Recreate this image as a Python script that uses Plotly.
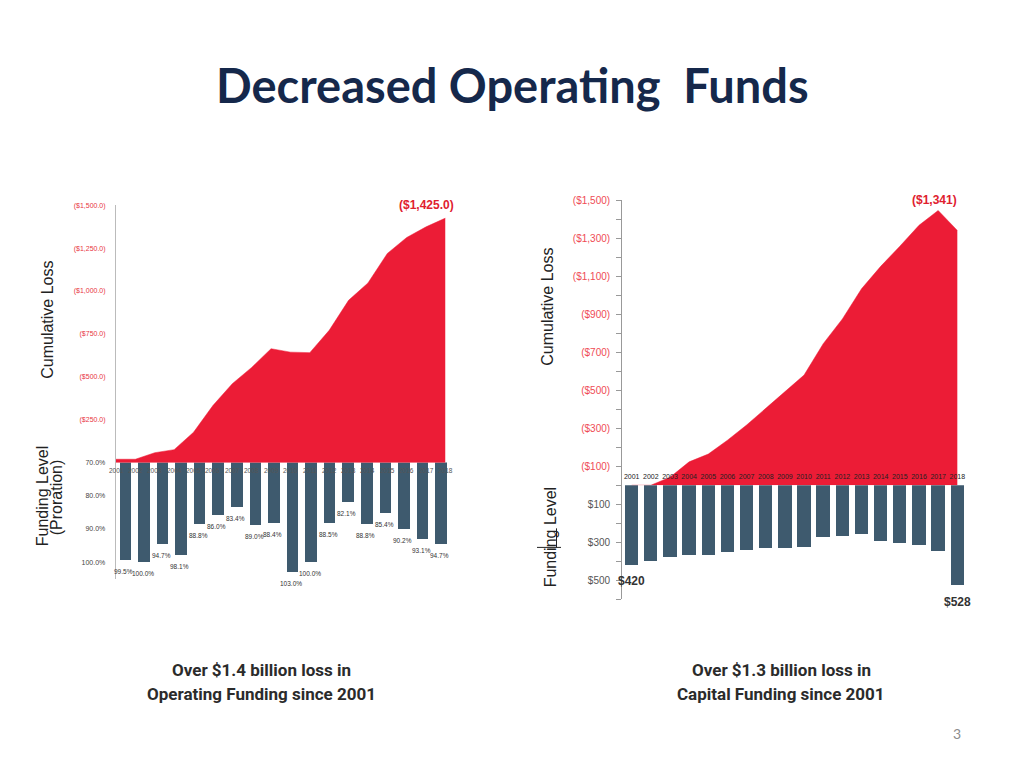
import plotly.graph_objects as go

# ---------------- data ----------------
years = list(range(2001, 2019))
year_labels = [str(y) for y in years]

# Left chart: operating funding
op_cum_loss = [20, 20, 58, 76, 177, 333, 460, 555, 664, 644, 641, 771, 946, 1047, 1219, 1312, 1374, 1425]
op_proration = [99.5, 100.0, 94.7, 98.1, 88.8, 86.0, 83.4, 89.0, 88.4, 103.0, 100.0, 88.5, 82.1, 88.8, 85.4, 90.2, 93.1, 94.7]
op_loss_ticks = [250, 500, 750, 1000, 1250, 1500]
op_loss_ticktext = ["($250.0)", "($500.0)", "($750.0)", "($1,000.0)", "($1,250.0)", "($1,500.0)"]
op_pct_ticks = [70, 80, 90, 100]
op_pct_ticktext = ["70.0%", "80.0%", "90.0%", "100.0%"]

# Right chart: capital funding
cap_cum_loss = [0, 0, 42, 123, 164, 237, 317, 405, 492, 580, 745, 875, 1034, 1152, 1258, 1368, 1446, 1341]
cap_funding = [420, 401, 378, 366, 369, 352, 341, 334, 331, 327, 274, 271, 258, 296, 306, 317, 347, 528]
cap_loss_ticks = [100, 200, 300, 400, 500, 600, 700, 800, 900, 1000, 1100, 1200, 1300, 1400, 1500]
cap_loss_ticktext = ["($100)", "", "($300)", "", "($500)", "", "($700)", "", "($900)", "",
                     "($1,100)", "", "($1,300)", "", "($1,500)"]
cap_fund_ticks = [0, 100, 200, 300, 400, 500, 600]
cap_fund_ticktext = ["", "$100", "", "$300", "", "$500", ""]

RED = "#EC1C36"
BAR = "#3E5A6E"
PAGE_MARGIN = 8                      # default browser body margin
W, H = 1024 - 2 * PAGE_MARGIN, 768 - 2 * PAGE_MARGIN
# screenshot mapping correction (page px -> picture px): pic = OFF + K * page
OFF_X, K_X = 0.0, 1.0
OFF_Y, K_Y = 6.1, 0.9907


def px(x):
    page = (x - OFF_X) / K_X
    return (page - PAGE_MARGIN) / W


def py(y):
    page = (y - OFF_Y) / K_Y
    return 1 - (page - PAGE_MARGIN) / H


fig = go.Figure()

fig.add_trace(go.Bar(x=years, y=[v - 70 for v in op_proration], base=70, width=0.62,
                     marker=dict(color=BAR, line=dict(width=0)), xaxis="x", yaxis="y", showlegend=False))
fig.add_trace(go.Bar(x=years, y=cap_funding, base=0, width=0.7,
                     marker=dict(color=BAR, line=dict(width=0)), xaxis="x2", yaxis="y2", showlegend=False))
fig.add_trace(go.Scatter(x=years, y=op_cum_loss, mode="lines", fill="tozeroy", fillcolor=RED,
                         line=dict(color=RED, width=0.5), xaxis="x3", yaxis="y3", showlegend=False))
fig.add_trace(go.Scatter(x=years, y=cap_cum_loss, mode="lines", fill="tozeroy", fillcolor=RED,
                         line=dict(color=RED, width=0.5), xaxis="x4", yaxis="y4", showlegend=False))

noaxis = dict(showgrid=False, zeroline=False)

layout = dict(
    width=W, height=H, autosize=False,
    margin=dict(l=0, r=0, t=0, b=0),
    paper_bgcolor="white", plot_bgcolor="rgba(0,0,0,0)",
    bargap=0,
    font=dict(family="Liberation Sans, Arial, sans-serif", color="#333"),
    xaxis=dict(domain=[px(115.7), px(450.1)], range=[2000.5, 2018.5], anchor="y",
               showticklabels=False, ticks="", showline=False, **noaxis),
    yaxis=dict(domain=[py(578.3), py(462.3)], range=[105, 70], anchor="x",
               tickmode="array", tickvals=op_pct_ticks, ticktext=op_pct_ticktext,
               tickfont=dict(size=7, color="#444"), ticks="", ticklabelstandoff=8,
               showline=True, linecolor="#BBBBBB", linewidth=1, **noaxis),
    xaxis2=dict(domain=[px(622.1), px(966.9)], range=[2000.5, 2018.5], anchor="y2",
                showticklabels=False, ticks="", showline=False, **noaxis),
    yaxis2=dict(domain=[py(598.7), py(485)], range=[600, 0], anchor="x2",
                tickmode="array", tickvals=cap_fund_ticks, ticktext=cap_fund_ticktext,
                tickfont=dict(size=10, color="#555"), ticks="outside", ticklen=5, tickcolor="#999",
                ticklabelstandoff=4,
                showline=True, linecolor="#999999", linewidth=1, **noaxis),
    xaxis3=dict(domain=[px(116), px(445.5)], range=[2001, 2018], anchor="y3",
                showticklabels=False, ticks="", showline=False, **noaxis),
    yaxis3=dict(domain=[py(462.5), py(205.7)], range=[0, 1500], anchor="x3",
                tickmode="array", tickvals=op_loss_ticks, ticktext=op_loss_ticktext,
                tickfont=dict(size=7, color="#E8343F"), ticks="", ticklabelstandoff=8,
                showline=True, linecolor="#BBBBBB", linewidth=1, **noaxis),
    xaxis4=dict(domain=[px(622.1), px(966.9)], range=[2000.5, 2018.5], anchor="y4",
                tickmode="array", tickvals=years, ticktext=year_labels,
                tickfont=dict(size=7, color="#222"), ticks="", ticklabelposition="inside",
                ticklabelstandoff=2, showline=False, **noaxis),
    yaxis4=dict(domain=[py(485), py(200.75)], range=[0, 1500], anchor="x4",
                tickmode="array", tickvals=cap_loss_ticks, ticktext=cap_loss_ticktext,
                tickfont=dict(size=10, color="#EF4B55"), ticks="outside", ticklen=5, tickcolor="#999",
                ticklabelstandoff=4,
                showline=True, linecolor="#999999", linewidth=1, **noaxis),
)
fig.update_layout(**layout)

ann = []
ann.append(dict(xref="paper", yref="paper", x=px(512), y=py(86), xanchor="center", yanchor="middle",
                text="<b>Decreased Operating  Funds</b>", showarrow=False,
                font=dict(family="Lato, Open Sans, sans-serif", size=47, color="#15284B")))
cap_font = dict(family="Roboto, Liberation Sans, sans-serif", size=17, color="#2B2B2B", weight=700)
for x, t1, t2 in [(261, "Over $1.4 billion loss in", "Operating Funding since 2001"),
                  (781, "Over $1.3 billion loss in", "Capital Funding since 2001")]:
    ann.append(dict(xref="paper", yref="paper", x=px(x), y=py(669), xanchor="center", yanchor="middle",
                    text=t1, showarrow=False, font=cap_font))
    ann.append(dict(xref="paper", yref="paper", x=px(x), y=py(693), xanchor="center", yanchor="middle",
                    text=t2, showarrow=False, font=cap_font))
ann.append(dict(xref="paper", yref="paper", x=px(957), y=py(733), xanchor="center", yanchor="middle",
                text="3", showarrow=False, font=dict(family="Lato, sans-serif", size=14, color="#8C8C8C")))
title_font = dict(family="Liberation Sans, Arial, sans-serif", size=16, color="#222")
ann.append(dict(xref="paper", yref="paper", x=px(48), y=py(320), textangle=-90, text="Cumulative Loss",
                showarrow=False, xanchor="center", yanchor="middle", font=title_font))
ann.append(dict(xref="paper", yref="paper", x=px(42), y=py(496), textangle=-90, text="Funding Level",
                showarrow=False, xanchor="center", yanchor="middle", font=title_font))
ann.append(dict(xref="paper", yref="paper", x=px(56), y=py(497), textangle=-90, text="(Proration)",
                showarrow=False, xanchor="center", yanchor="middle", font=title_font))
ann.append(dict(xref="paper", yref="paper", x=px(548), y=py(307), textangle=-90, text="Cumulative Loss",
                showarrow=False, xanchor="center", yanchor="middle", font=title_font))
ann.append(dict(xref="paper", yref="paper", x=px(550), y=py(537), textangle=-90, text="Funding Level",
                showarrow=False, xanchor="center", yanchor="middle", font=title_font))
ann.append(dict(xref="x3", yref="y3", x=2017.0, y=1500, text="<b>($1,425.0)</b>", showarrow=False,
                xanchor="center", yanchor="middle", font=dict(size=12, color="#E0202E")))
ann.append(dict(xref="x4", yref="y4", x=2016.8, y=1500, text="<b>($1,341)</b>", showarrow=False,
                xanchor="center", yanchor="middle", font=dict(size=12, color="#E0202E")))
# left year labels (drawn above the bars)
for yr, lab in zip(years, year_labels):
    ann.append(dict(xref="x3", yref="y3", x=yr, y=0, yshift=-8, text=lab, showarrow=False,
                    xanchor="center", yanchor="middle", font=dict(size=6.5, color="#555")))
for yr, v in zip(years, op_proration):
    ann.append(dict(xref="x", yref="y", x=yr, y=v, yshift=-11, xshift=-1, text=f"{v:.1f}%",
                    showarrow=False, xanchor="center", yanchor="middle",
                    font=dict(size=6.5, color="#333")))
for i in (0, len(years) - 1):
    ann.append(dict(xref="x2", yref="y2", x=years[i], y=cap_funding[i], yshift=-16,
                    text=f"<b>${cap_funding[i]}</b>", showarrow=False, xanchor="center", yanchor="middle",
                    font=dict(size=12, color="#333")))
fig.update_layout(annotations=ann)

fig.add_shape(type="line", xref="paper", yref="paper", x0=px(537), x1=px(561), y0=py(547), y1=py(547),
              line=dict(color="#222", width=1))
fig.add_shape(type="line", xref="paper", yref="paper", x0=px(556.5), x1=px(556.5), y0=py(528), y1=py(547),
              line=dict(color="#222", width=1))

fig.write_html("out.html", config={"displayModeBar": False})
